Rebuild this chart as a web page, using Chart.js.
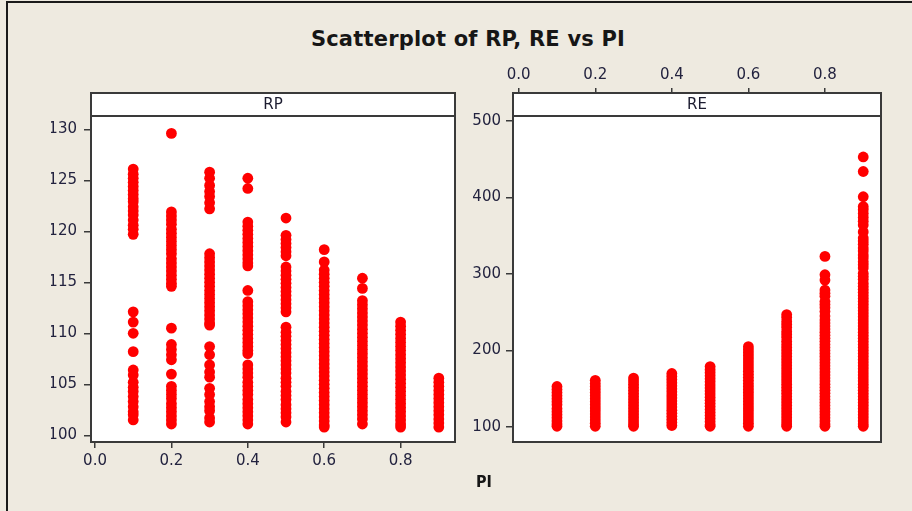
<!DOCTYPE html>
<html>
<head>
<meta charset="utf-8">
<script src="https://cdn.jsdelivr.net/npm/chart.js@4.4.1/dist/chart.umd.min.js"></script>
<style>
  html, body { margin: 0; padding: 0; background: #EEEAE0; }
  #wrap { position: relative; width: 912px; height: 511px; overflow: hidden; background: #EEEAE0; }
  #frame { position: absolute; left: 6px; top: 1px; right: -10px; bottom: -10px;
           border-left: 2px solid #1a1a1a; border-top: 2px solid #1a1a1a; }
  canvas { position: absolute; left: 0; top: 0; }
  #title { position: absolute; left: 168px; width: 600px; top: 27px; text-align: center;
           font-family: "DejaVu Sans", sans-serif; font-weight: bold;
           font-size: 21px; line-height: 24px; letter-spacing: 0.2px; color: #161616; }
  #xlabel { position: absolute; left: 434px; width: 100px; top: 472px; text-align: center;
            font-family: "DejaVu Sans Condensed", "DejaVu Sans", sans-serif; font-weight: bold;
            font-size: 16px; line-height: 20px; color: #161616; }
</style>
</head>
<body>
<div id="wrap">
  <div id="frame"></div>
  <div id="title">Scatterplot of RP, RE vs PI</div>
  <canvas id="c1" width="912" height="511"></canvas>
  <canvas id="c2" width="912" height="511"></canvas>
  <div id="xlabel">PI</div>
</div>
<script>
// ---------------- data ----------------
const piValues = [0.1, 0.2, 0.3, 0.4, 0.5, 0.6, 0.7, 0.8, 0.9];
const piTicks = [0.0, 0.2, 0.4, 0.6, 0.8];
const rpTicks = [100, 105, 110, 115, 120, 125, 130];
const reTicks = [100, 200, 300, 400, 500];
const panelNames = ['RP', 'RE'];

// RP values per PI column
const rp01 = [126.1,125.6,125.2,124.8,124.4,124.0,123.6,123.2,122.9,122.4,122.0,121.6,121.1,120.6,120.2,119.7,
              112.1,111.1,110.0,108.2,106.4,105.9,105.2,104.7,104.3,103.8,103.3,102.8,102.3,102.0,101.5];
const rp02 = [129.6,121.9,121.5,121.1,120.7,120.2,119.8,119.4,119.0,118.6,118.2,117.8,117.3,116.9,116.5,116.1,115.7,115.3,114.9,114.6,
              110.5,108.9,108.4,107.9,107.4,106.0,104.8,104.4,104.0,103.6,103.1,102.7,102.3,101.9,101.5,101.1];
const rp03 = [125.8,125.2,124.5,123.9,123.4,122.8,122.2,
              117.8,117.4,117.0,116.6,116.2,115.8,115.4,115.0,114.6,114.2,113.8,113.4,113.0,112.6,112.2,111.8,111.4,111.0,110.8,
              108.7,107.9,106.9,106.2,105.7,104.6,104.0,103.3,102.8,102.4,101.7,101.3];
const rp04 = [125.2,124.2,120.9,120.5,120.1,119.7,119.3,118.9,118.5,118.1,117.7,117.3,116.9,116.6,114.2,
              113.1,112.7,112.3,111.9,111.5,111.1,110.7,110.3,109.9,109.5,109.1,108.7,108.3,108.0,
              106.9,106.5,106.1,105.7,105.2,104.8,104.4,104.0,103.5,103.1,102.7,102.3,101.9,101.5,101.1];
const rp05 = [121.3,119.6,119.2,118.8,118.4,118.0,117.6,
              116.5,116.1,115.7,115.3,114.9,114.5,114.1,113.7,113.3,112.9,112.5,112.1,
              110.6,110.1,109.7,109.3,108.9,108.5,108.1,107.7,107.3,106.9,106.5,106.1,105.6,105.2,104.8,104.3,103.9,103.5,103.0,102.6,102.2,101.8,101.3];
const rp06 = [118.2,117.0,116.2,115.8,115.4,115.0,114.6,114.2,113.8,113.4,113.0,112.6,112.2,111.8,111.4,111.0,110.6,110.2,109.8,109.4,
              109.0,108.6,108.2,107.8,107.4,107.0,106.6,106.2,105.8,105.4,105.0,104.6,104.2,103.8,103.4,103.0,102.6,102.2,101.8,101.4,101.0,100.8];
const rp07 = [115.4,114.4,113.2,112.8,112.4,112.0,111.6,111.2,110.8,110.4,110.0,109.6,109.2,108.8,108.4,108.0,107.6,107.2,106.8,106.4,
              106.0,105.6,105.2,104.8,104.4,104.0,103.6,103.2,102.8,102.4,102.0,101.6,101.1];
const rp08 = [111.1,110.7,110.3,109.9,109.5,109.1,108.7,108.3,107.9,107.5,107.1,106.7,106.3,105.9,105.5,105.1,104.7,104.3,103.9,103.5,
              103.1,102.7,102.3,101.9,101.5,101.1,100.8];
const rp09 = [105.6,105.2,104.8,104.4,104.0,103.6,103.2,102.8,102.4,102.0,101.6,101.2,100.8];

// RE values per PI column
const re01 = [153,149,145,141,137,133,129,124,120,116,112,108,104,101];
const re02 = [161,157,153,149,145,141,137,133,129,125,121,117,113,109,105,101];
const re03 = [164,160,156,152,148,144,140,136,132,128,124,120,116,112,108,104,101];
const re04 = [170,166,162,158,154,150,146,142,138,134,130,126,122,118,114,110,106,102];
const re05 = [179,175,171,167,163,159,155,151,147,143,139,135,131,127,123,119,115,111,107,103,101];
const re06 = [205,201,197,193,189,185,181,177,173,169,165,161,157,153,149,145,141,137,133,129,125,121,117,113,109,105,101];
const re07 = [247,243,238,234,230,225,221,217,212,208,204,200,196,192,188,184,180,176,172,168,164,160,156,152,148,144,140,136,
              132,128,124,120,116,112,108,104,101];
const re08 = [323,299,292,279,275,271,264,260,256,251,245,240,236,232,228,224,220,216,212,208,204,200,196,192,188,184,180,176,
              172,168,164,160,156,152,148,144,140,136,132,128,124,120,116,112,108,104,101];
const re09 = [453,434,401,388,384,379,374,369,364,355,347,343,339,334,330,325,321,316,312,308,301,297,293,288,284,280,276,272,
              268,264,260,256,252,248,244,240,236,232,228,224,220,216,212,208,204,200,196,192,188,184,180,176,172,168,164,
              160,156,152,148,144,140,136,132,128,124,120,116,112,108,104,101];

const rpCols = [rp01, rp02, rp03, rp04, rp05, rp06, rp07, rp08, rp09];
const reCols = [re01, re02, re03, re04, re05, re06, re07, re08, re09];

// ---------------- helpers ----------------
function toPoints(cols) {
  const pts = [];
  cols.forEach((col, i) => col.forEach(v => pts.push({ x: piValues[i], y: v })));
  return pts;
}

const TICK_FONT = { family: 'DejaVu Sans', size: 15 };
const TICK_COLOR = '#23233f';
const LINE_COLOR = '#3a3a3a';

const panelPlugin = {
  id: 'panel',
  beforeDatasetsDraw(chart) {
    const a = chart.chartArea, ctx = chart.ctx;
    ctx.save();
    ctx.fillStyle = '#ffffff';
    ctx.fillRect(a.left, a.top, a.right - a.left, a.bottom - a.top);
    ctx.restore();
  },
  afterDatasetsDraw(chart, args, opts) {
    const a = chart.chartArea, ctx = chart.ctx;
    ctx.save();
    ctx.strokeStyle = LINE_COLOR;
    ctx.lineWidth = 2;
    ctx.strokeRect(a.left, a.top, a.right - a.left, a.bottom - a.top);
    ctx.beginPath();
    ctx.moveTo(a.left, a.top + 23);
    ctx.lineTo(a.right, a.top + 23);
    ctx.stroke();
    ctx.fillStyle = '#1c1c30';
    ctx.font = '15px "DejaVu Sans"';
    ctx.textAlign = 'center';
    ctx.textBaseline = 'middle';
    ctx.fillText(opts.label, (a.left + a.right) / 2, a.top + 12);
    ctx.restore();
  }
};

function makeChart(id, cols, cfg) {
  return new Chart(document.getElementById(id), {
    type: 'scatter',
    data: {
      datasets: [{
        data: toPoints(cols),
        backgroundColor: '#ff0000',
        borderWidth: 0,
        pointRadius: 5.4,
        pointStyle: 'circle'
      }]
    },
    options: {
      responsive: false,
      animation: false,
      devicePixelRatio: 1,
      events: [],
      layout: { padding: cfg.padding },
      plugins: {
        legend: { display: false },
        tooltip: { enabled: false },
        panel: { label: cfg.label }
      },
      scales: {
        x: {
          type: 'linear',
          position: cfg.xPos,
          min: cfg.xMin, max: cfg.xMax,
          display: cfg.xDisplay,
          afterBuildTicks: s => { s.ticks = piTicks.map(v => ({ value: v })); },
          afterFit: s => { s.height = 30; },
          border: { display: false },
          grid: { display: true, drawOnChartArea: false, drawTicks: true, tickLength: cfg.xTickLen, tickColor: LINE_COLOR, lineWidth: 1.5 },
          ticks: { font: TICK_FONT, color: TICK_COLOR, padding: cfg.xPad, maxRotation: 0, autoSkip: false,
                   callback: v => Number(v).toFixed(1) }
        },
        y: {
          type: 'linear',
          position: 'left',
          min: cfg.yMin, max: cfg.yMax,
          afterBuildTicks: s => { s.ticks = cfg.yTicks.map(v => ({ value: v })); },
          afterFit: s => { s.width = cfg.yWidth; },
          border: { display: false },
          grid: { display: true, drawOnChartArea: false, drawTicks: true, tickLength: 7, tickColor: LINE_COLOR, lineWidth: 1.5 },
          ticks: { font: TICK_FONT, color: TICK_COLOR, padding: cfg.yPad, autoSkip: false,
                   callback: v => String(v) }
        }
      }
    },
    plugins: [panelPlugin]
  });
}

// left panel: chart area x 91..455, y 93..442
makeChart('c1', rpCols, {
  label: panelNames[0],
  padding: { left: 51, right: 457, top: 93, bottom: 39 },
  xPos: 'bottom', xDisplay: true, xTickLen: 6, xPad: 4,
  xMin: -0.0105, xMax: 0.9424,
  yMin: 99.34, yMax: 133.56, yTicks: rpTicks, yWidth: 40, yPad: 7
});

// right panel: chart area x 513..881, y 93..442
makeChart('c2', reCols, {
  label: panelNames[1],
  padding: { left: 463, right: 31, top: 63, bottom: 69 },
  xPos: 'top', xDisplay: true, xTickLen: 5, xPad: 4,
  xMin: -0.0149, xMax: 0.9464,
  yMin: 80.4, yMax: 536.6, yTicks: reTicks, yWidth: 50, yPad: 5
});
</script>
</body>
</html>
